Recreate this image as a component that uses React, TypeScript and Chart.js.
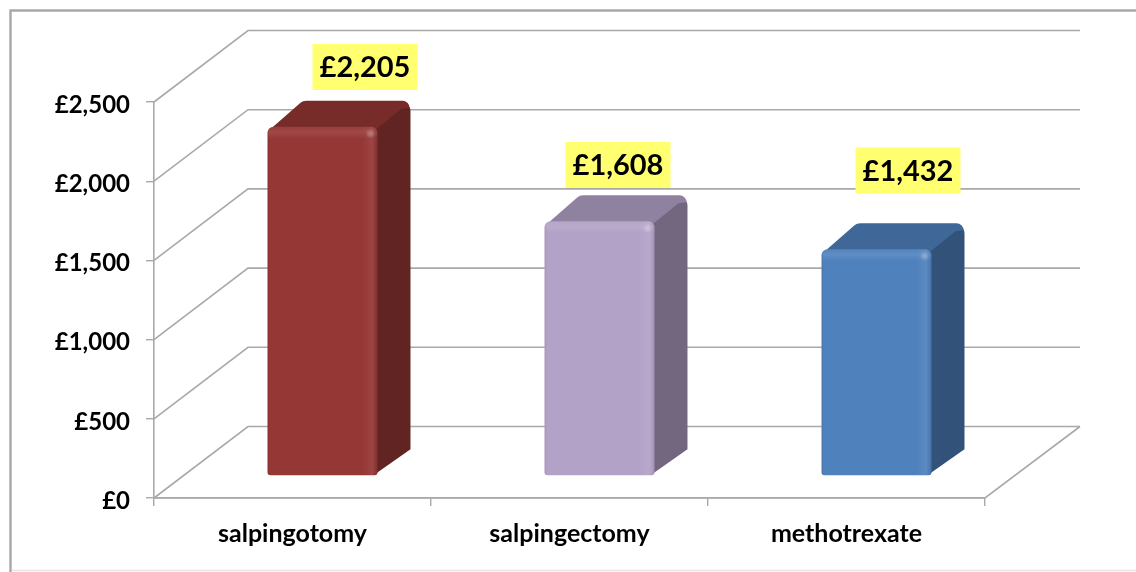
import React, { useEffect, useRef } from "react";
import { Chart, registerables } from "chart.js";

Chart.register(...registerables);

const categories = ["salpingotomy", "salpingectomy", "methotrexate"];
const costs = [2205, 1608, 1432];
const faceColors = ["#953735", "#b3a2c7", "#4f81bd"];
const sideColors = ["#622422", "#73667f", "#325279"];
const topColors = ["#772c2a", "#8f81a0", "#3f6797"];
const labelShiftX = [42.5, 18.5, 31.5];
const labelCentreY = [67, 165, 170.5];

const DEPTH_X = 94;
const DEPTH_Y = 71.5;
const BAR_X = 30;
const BAR_Y = 22;
const BAR_DX = 33;
const BAR_DY = 26;
const LINE = "#a9a9a9";
const FONT = "Lato, Carlito, sans-serif";
const money = (v: number) => "£" + Number(v).toLocaleString("en-GB");

const wallPlugin = {
  id: "walls",
  beforeDraw(chart: any) {
    const { ctx, width, height } = chart;
    const y = chart.scales.y;
    const x = chart.scales.x;
    ctx.save();
    ctx.fillStyle = "#fff";
    ctx.fillRect(0, 0, width, height);
    ctx.strokeStyle = "#a8a8a8";
    ctx.lineWidth = 2.4;
    ctx.beginPath();
    ctx.moveTo(10.5, height);
    ctx.lineTo(10.5, 10.5);
    ctx.lineTo(width, 10.5);
    ctx.stroke();
    ctx.strokeStyle = "#e6e6e6";
    ctx.lineWidth = 1.5;
    ctx.beginPath();
    ctx.moveTo(12, 570.5);
    ctx.lineTo(width, 570.5);
    ctx.stroke();

    ctx.strokeStyle = LINE;
    ctx.lineWidth = 1.6;
    const left = x.left;
    const right = x.right;
    y.ticks.forEach((t: any) => {
      const py = y.getPixelForValue(t.value);
      ctx.beginPath();
      ctx.moveTo(left, py);
      ctx.lineTo(left + DEPTH_X, py - DEPTH_Y);
      ctx.lineTo(right + DEPTH_X + 1, py - DEPTH_Y);
      if (t.value === 0) {
        ctx.moveTo(left, py);
        ctx.lineTo(right, py);
        ctx.lineTo(right + DEPTH_X + 1, py - DEPTH_Y);
      }
      ctx.stroke();
    });
    ctx.restore();
  },
  beforeDatasetsDraw(chart: any) {
    const { ctx } = chart;
    const meta = chart.getDatasetMeta(0);
    ctx.save();
    meta.data.forEach((bar: any, i: number) => {
      const l = bar.x - bar.width / 2 + BAR_X;
      const r = bar.x + bar.width / 2 + BAR_X;
      const t = bar.y - BAR_Y;
      const b = bar.base - BAR_Y;
      const backR = r + BAR_DX;
      const backT = t - BAR_DY;

      ctx.fillStyle = sideColors[i];
      ctx.beginPath();
      ctx.moveTo(r - 4, t + 3);
      ctx.lineTo(backR - 8, backT + 2);
      ctx.arcTo(backR, backT, backR, backT + 8, 8);
      ctx.lineTo(backR, b - BAR_DY);
      ctx.lineTo(r - 4, b);
      ctx.closePath();
      ctx.fill();

      ctx.fillStyle = topColors[i];
      ctx.beginPath();
      ctx.moveTo(l + 1, t + 4);
      ctx.lineTo(l + BAR_DX, backT + 2);
      ctx.quadraticCurveTo(l + BAR_DX + 2, backT, l + BAR_DX + 6, backT);
      ctx.lineTo(backR - 8, backT);
      ctx.arcTo(backR - 1, backT, backR - 1, backT + 7, 7);
      ctx.lineTo(backR - 9, backT + 8);
      ctx.lineTo(r - 2, t + 3);
      ctx.closePath();
      ctx.fill();
    });
    ctx.restore();
    ctx.save();
    ctx.translate(BAR_X, -BAR_Y);
  },
  afterDatasetsDraw(chart: any) {
    const { ctx } = chart;
    const meta = chart.getDatasetMeta(0);
    meta.data.forEach((bar: any) => {
      const l = bar.x - bar.width / 2;
      const r = bar.x + bar.width / 2;
      const t = bar.y;
      const b = bar.base;
      ctx.save();
      ctx.beginPath();
      ctx.roundRect(l, t, r - l, b - t, [6, 6, 3, 3]);
      ctx.clip();
      const gx = ctx.createLinearGradient(l, 0, r, 0);
      gx.addColorStop(0, "rgba(0,0,0,0.10)");
      gx.addColorStop(0.02, "rgba(0,0,0,0)");
      gx.addColorStop(0.86, "rgba(255,255,255,0)");
      gx.addColorStop(0.955, "rgba(255,255,255,0.07)");
      gx.addColorStop(0.985, "rgba(0,0,0,0.03)");
      gx.addColorStop(1, "rgba(0,0,0,0.18)");
      ctx.fillStyle = gx;
      ctx.fillRect(l, t, r - l, b - t);
      const gy = ctx.createLinearGradient(0, t, 0, t + 12);
      gy.addColorStop(0, "rgba(255,255,255,0.03)");
      gy.addColorStop(0.45, "rgba(255,255,255,0.09)");
      gy.addColorStop(1, "rgba(255,255,255,0)");
      ctx.fillStyle = gy;
      ctx.fillRect(l, t, r - l, 12);
      const spot = ctx.createRadialGradient(r - 7, t + 7, 0, r - 7, t + 7, 5);
      spot.addColorStop(0, "rgba(255,255,255,0.28)");
      spot.addColorStop(1, "rgba(255,255,255,0)");
      ctx.fillStyle = spot;
      ctx.fillRect(r - 13, t + 1, 12, 12);
      ctx.restore();
    });
    ctx.restore();

    ctx.save();
    ctx.font = `bold 29px ${FONT}`;
    ctx.textAlign = "center";
    ctx.textBaseline = "middle";
    meta.data.forEach((bar: any, i: number) => {
      const cx = bar.x + BAR_X + labelShiftX[i];
      const cy = labelCentreY[i];
      ctx.fillStyle = "#ffff70";
      ctx.fillRect(cx - 52.5, cy - 23, 105, 46);
      ctx.fillStyle = "#000";
      ctx.fillText(money(costs[i]), cx, cy + 1);
    });
    ctx.restore();
  },
};

export default function App() {
  const ref = useRef<HTMLCanvasElement>(null);
  useEffect(() => {
    document.body.style.margin = "0";
    const chart = new Chart(ref.current as HTMLCanvasElement, {
      type: "bar",
      data: {
        labels: categories,
        datasets: [
          {
            data: costs,
            backgroundColor: faceColors,
            borderWidth: 0,
            borderRadius: { topLeft: 6, topRight: 6, bottomLeft: 3, bottomRight: 3 },
            borderSkipped: false,
            barPercentage: 0.397,
            categoryPercentage: 1,
            clip: false,
          } as any,
        ],
      },
      options: {
        animation: false,
        responsive: false,
        layout: { padding: { top: 102, right: 151, left: 0, bottom: 0 } },
        plugins: { legend: { display: false }, tooltip: { enabled: false } },
        scales: {
          x: {
            afterFit: (s: any) => {
              s.height = 74;
            },
            border: { color: LINE, width: 1.6 },
            grid: { drawOnChartArea: false, color: LINE, tickLength: 8, lineWidth: 1.4 },
            ticks: {
              color: "#000",
              padding: 13,
              maxRotation: 0,
              font: { family: FONT, weight: "bold", size: 25 },
            },
          },
          y: {
            min: 0,
            max: 2500,
            afterFit: (s: any) => {
              s.width = 154;
            },
            border: { color: LINE, width: 1.6 },
            grid: { drawOnChartArea: false, color: LINE, tickLength: 8, lineWidth: 1.4 },
            ticks: {
              stepSize: 500,
              color: "#000",
              padding: 16,
              labelOffset: 3,
              font: { family: FONT, weight: "bold", size: 24 },
              callback: (v: any) => money(Number(v)),
            },
          },
        },
      },
      plugins: [wallPlugin],
    });
    return () => chart.destroy();
  }, []);
  return (
    <div style={{ width: 1136, height: 572 }}>
      <canvas
        ref={ref}
        width={1136}
        height={572}
        style={{ display: "block", filter: "blur(0.4px)" }}
      />
    </div>
  );
}
